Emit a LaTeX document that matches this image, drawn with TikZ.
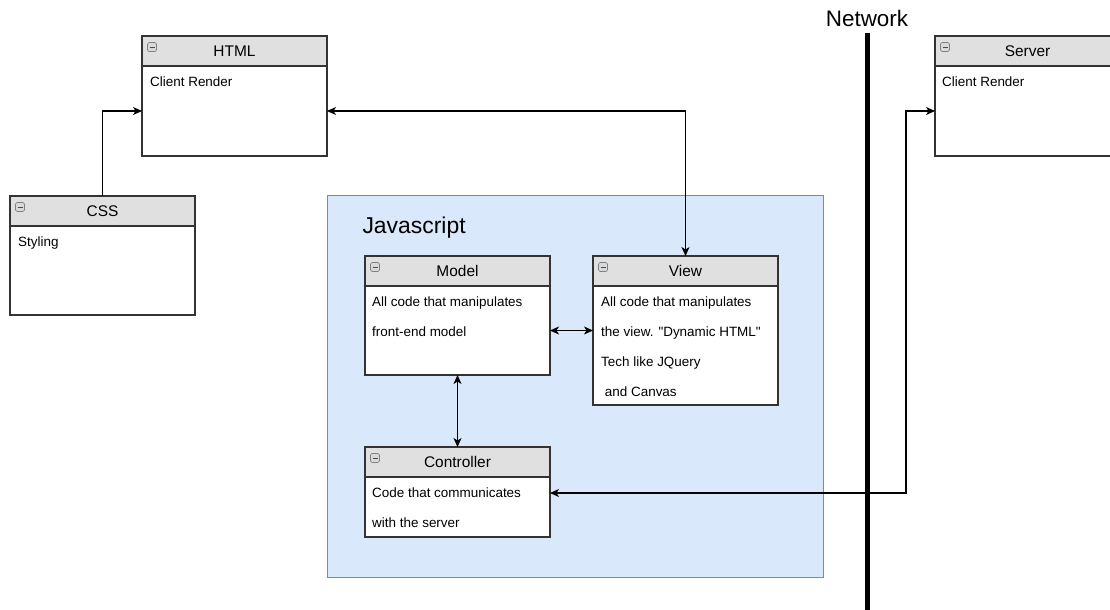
\documentclass[tikz,border=0pt]{standalone}
\usepackage[]{color}
\usepackage{tikz}
\usetikzlibrary{arrows.meta}
\usepackage{fontspec}
\setmainfont{Liberation Sans}

\definecolor{jsfill}{RGB}{218,232,252}
\definecolor{jsdraw}{RGB}{108,142,191}
\definecolor{hdrfill}{RGB}{224,224,224}
\definecolor{boxdraw}{RGB}{51,51,51}

\begin{document}
\begin{tikzpicture}[
  hdr/.style={draw=boxdraw,line width=1.1bp,fill=hdrfill,anchor=north west,minimum width=185bp,minimum height=30bp,inner sep=0pt,outer sep=0pt,font=\fontsize{15.5}{18}\selectfont},
  bdy/.style={draw=boxdraw,line width=1.1bp,fill=white,anchor=north west,minimum width=185bp,inner sep=0pt,outer sep=0pt},
  txt/.style={anchor=north west,align=left,inner sep=0pt,font=\fontsize{13.5}{30}\selectfont},
  ico/.style={draw=gray,fill=gray!30,rounded corners=1.5bp,minimum size=9bp,inner sep=0pt,line width=0.6bp,
    path picture={\draw[line width=1bp,black!70] ([xshift=2bp]path picture bounding box.west) -- ([xshift=-2bp]path picture bounding box.east);}},
  link/.style={line width=1.1bp,>={Stealth[length=9bp,width=8bp,inset=2.5bp]}}
]
\useasboundingbox (0bp,0bp) rectangle (1110bp,-610bp);

\node (jsbox) at (327bp,-195bp)[draw=jsdraw,fill=jsfill,line width=0.8bp,anchor=north west,minimum width=496bp,minimum height=382bp,inner sep=0pt] {};
\node (jslbl) at (359bp,-233bp)[anchor=base west,font=\fontsize{23}{26}\selectfont] {Javascript};

\node (htmlh) at (142bp,-36bp)[hdr] {HTML};
\node (htmlb) at (htmlh.south west)[bdy,minimum height=90bp] {};
\node (htmli) at ([xshift=10bp,yshift=-11bp]htmlh.north west)[ico] {};
\node (htmlt) at ([xshift=8bp,yshift=-11bp]htmlb.north west)[txt] {Client Render};

\node (cssh) at (10bp,-196bp)[hdr] {CSS};
\node (cssb) at (cssh.south west)[bdy,minimum height=89bp] {};
\node (cssi) at ([xshift=10bp,yshift=-11bp]cssh.north west)[ico] {};
\node (csst) at ([xshift=8bp,yshift=-11bp]cssb.north west)[txt] {Styling};

\node (modelh) at (365bp,-256bp)[hdr] {Model};
\node (modelb) at (modelh.south west)[bdy,minimum height=89bp] {};
\node (modeli) at ([xshift=10bp,yshift=-11bp]modelh.north west)[ico] {};
\node (modelt) at ([xshift=7bp,yshift=-11bp]modelb.north west)[txt] {All code that manipulates\\front-end model};

\node (viewh) at (593bp,-256bp)[hdr] {View};
\node (viewb) at (viewh.south west)[bdy,minimum height=119bp] {};
\node (viewi) at ([xshift=10bp,yshift=-11bp]viewh.north west)[ico] {};
\node (viewt) at ([xshift=8bp,yshift=-11bp]viewb.north west)[txt] {All code that manipulates\\the view. \textquotedbl Dynamic HTML\textquotedbl\\Tech like JQuery\\\ and Canvas};

\node (ctrlh) at (365bp,-447bp)[hdr] {Controller};
\node (ctrlb) at (ctrlh.south west)[bdy,minimum height=60bp] {};
\node (ctrli) at ([xshift=10bp,yshift=-11bp]ctrlh.north west)[ico] {};
\node (ctrlt) at ([xshift=7bp,yshift=-11bp]ctrlb.north west)[txt] {Code that communicates\\with the server};

\node (serverh) at (935bp,-36bp)[hdr] {Server};
\node (serverb) at (serverh.south west)[bdy,minimum height=90bp] {};
\node (serveri) at ([xshift=10bp,yshift=-11bp]serverh.north west)[ico] {};
\node (servert) at ([xshift=7bp,yshift=-11bp]serverb.north west)[txt] {Client Render};

\node (netlbl) at (867bp,-18bp)[font=\fontsize{22.5}{26}\selectfont] {Network};
\coordinate (nettop) at (867bp,-33bp);
\coordinate (netbot) at (867bp,-612bp);
\draw[line width=5bp] (nettop) -- (netbot);

\draw[link,->] (cssh.north) |- (htmlb.west);
\draw[link,<->] (htmlb.east) -| (viewh.north);
\draw[link,<->] (modelb.east) -- (modelb.east -| viewb.west);
\draw[link,<->] (modelb.south) -- (ctrlh.north);
\coordinate (srvbend) at (906bp,-493bp);
\draw[link,<->] (ctrlb.east |- srvbend) -- (srvbend) |- (serverb.west);
\end{tikzpicture}
\end{document}
